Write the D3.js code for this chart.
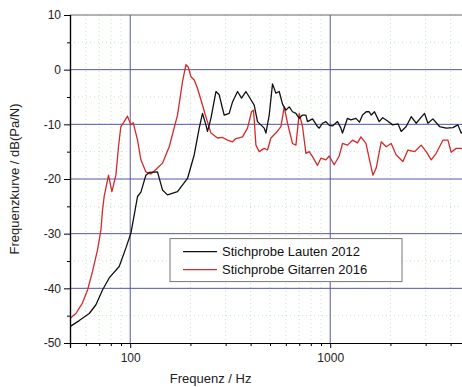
<!DOCTYPE html>
<html>
<head>
<meta charset="utf-8">
<script src="https://cdn.jsdelivr.net/npm/d3@7/dist/d3.min.js"></script>
<style>
body { margin: 0; background: #fff; }
svg { display: block; font-family: "Liberation Sans", Arial, sans-serif; }
</style>
</head>
<body>
<svg id="chart"></svg>
<script>
// Stichprobe Lauten 2012 (Frequenz in Hz, Pegel in dB)
const lautenFreq = [50, 55.6, 62.4, 67.4, 72.7, 78.5, 88.1, 95.2, 100.8, 104.7, 108.8, 113.1, 119.8, 124.5, 136.9, 145, 153.6, 172.4, 193.4, 208.9, 221.3, 229.9, 239, 243.5, 253.3, 268.3, 278.6, 289.4, 295.1, 312.6, 324.8, 344.1, 360.3, 378.8, 401.4, 416.9, 433, 450.3, 467.7, 477, 495.5, 514.7, 535.2, 555.9, 577.5, 600.5, 623.7, 647.9, 673.8, 699.8, 727, 755.9, 770, 815.6, 864, 881, 915, 951.7, 990, 1027, 1088, 1131, 1152, 1220, 1269, 1345, 1400, 1451, 1514, 1567, 1603, 1665, 1758, 1830, 1905, 2054, 2181, 2265, 2399, 2541, 2692, 2820, 2962, 3080, 3262, 3520, 3802, 4108, 4350, 4519, 4800, 5000];
const lautenDb = [-47.0, -45.9, -44.6, -43.0, -40.3, -38.1, -36.0, -32.6, -29.9, -26.6, -23.2, -22.4, -19.3, -18.8, -18.7, -22.0, -22.9, -22.3, -19.9, -15.6, -10.7, -8.0, -10.1, -11.3, -8.9, -4.0, -4.6, -7.1, -8.3, -8.0, -5.9, -4.0, -5.2, -4.0, -5.5, -6.5, -9.5, -10.1, -10.7, -11.6, -8.3, -2.6, -4.3, -4.0, -6.3, -7.4, -6.8, -7.7, -8.0, -8.9, -8.3, -8.3, -9.5, -9.0, -10.4, -10.7, -9.8, -9.5, -10.2, -10.3, -9.5, -10.7, -11.6, -8.9, -9.2, -8.9, -9.6, -8.3, -7.7, -7.7, -8.3, -7.7, -9.5, -8.8, -9.2, -10.1, -9.9, -11.3, -10.4, -8.6, -9.8, -8.9, -8.0, -9.8, -9.0, -10.4, -10.7, -10.6, -10.1, -11.6, -10.8, -11.0];

// Stichprobe Gitarren 2016
const gitarrenFreq = [50, 53.5, 57.7, 61.2, 64.8, 68.6, 71.4, 72.7, 74.1, 77.9, 81, 84.8, 87.4, 89.8, 93.3, 96.9, 100.8, 103.5, 108.8, 113.1, 119.8, 126.9, 136.9, 145, 156.7, 172.4, 182.6, 189.9, 195, 201.2, 208.9, 217, 229.9, 239, 253.3, 273.3, 289.4, 306.6, 324.8, 337.7, 364.5, 386, 404.3, 413.6, 425.2, 441.6, 467.7, 486, 505.2, 535.2, 567, 588.8, 611.7, 647.9, 673.8, 699.8, 727, 756, 785.2, 815.6, 864, 898.5, 951.7, 988.5, 1047, 1109, 1152, 1220, 1293, 1369, 1424, 1509, 1573, 1635, 1698, 1799, 1905, 2018, 2138, 2310, 2447, 2640, 2851, 3020, 3199, 3388, 3660, 3877, 4027, 4266, 4519, 4800, 5000];
const gitarrenDb = [-45.5, -44.6, -42.7, -40.3, -36.9, -33.0, -29.3, -25.7, -23.2, -19.3, -22.3, -19.3, -14.1, -10.4, -9.5, -8.5, -10.1, -9.7, -12.9, -16.5, -18.7, -19.1, -18.0, -17.1, -14.1, -8.3, -2.2, 0.9, 0.5, -1.3, -1.9, -3.4, -6.5, -8.6, -11.6, -12.5, -12.4, -12.9, -13.2, -12.6, -12.3, -10.7, -7.7, -7.4, -13.8, -15.0, -14.4, -14.7, -12.5, -11.6, -10.4, -6.8, -9.8, -13.5, -13.8, -8.0, -10.4, -15.3, -15.0, -15.9, -17.5, -16.2, -16.5, -15.8, -17.4, -15.8, -13.5, -13.8, -12.9, -13.4, -12.3, -13.5, -16.5, -19.3, -18.0, -13.2, -14.1, -13.5, -15.6, -16.8, -14.7, -15.0, -13.8, -15.0, -16.5, -15.3, -12.9, -12.9, -15.1, -14.4, -14.4, -14.6, -14.2];

const seriesNames = ["Stichprobe Lauten 2012", "Stichprobe Gitarren 2016"];
const seriesColors = ["#111111", "#d42a2a"];

const yMajor = [10, 0, -10, -20, -30, -40, -50];
const yMinor = [5, -5, -15, -25, -35, -45];
const xMajor = [100, 1000];
const xMinor = [60, 70, 80, 90, 200, 300, 400, 500, 600, 700, 800, 900, 2000, 3000, 4000];

const W = 462, H = 387;
const margin = { top: 15, right: -8, bottom: 44, left: 70 };
const width = W - margin.left - margin.right;
const height = H - margin.top - margin.bottom;

const svg = d3.select('#chart').attr('width', W).attr('height', H);

const x = d3.scaleLog().domain([50, 5000]).range([0, width]);
const y = d3.scaleLinear().domain([-50, 10]).range([height, 0]);

const g = svg.append('g')
	.attr('transform', 'translate(' + margin.left + ',' + margin.top + ')');

g.append('clipPath').attr('id', 'clip')
	.append('rect').attr('width', width).attr('height', height);

// minor grid, dotted light green
g.selectAll('.vminor').data(xMinor).enter().append('line')
	.attr('x1', d => x(d)).attr('x2', d => x(d))
	.attr('y1', 0).attr('y2', height)
	.attr('stroke', '#c4e6c4').attr('stroke-width', 1).attr('stroke-dasharray', '1,3');
g.selectAll('.hminor').data(yMinor).enter().append('line')
	.attr('x1', 0).attr('x2', width)
	.attr('y1', d => y(d)).attr('y2', d => y(d))
	.attr('stroke', '#c4e6c4').attr('stroke-width', 1).attr('stroke-dasharray', '1,3');

// major grid, blue
g.selectAll('.vmajor').data(xMajor).enter().append('line')
	.attr('x1', d => x(d)).attr('x2', d => x(d))
	.attr('y1', 0).attr('y2', height)
	.attr('stroke', '#5555aa').attr('stroke-width', 1);
g.selectAll('.hmajor').data(yMajor.slice(1, -1)).enter().append('line')
	.attr('x1', 0).attr('x2', width)
	.attr('y1', d => y(d)).attr('y2', d => y(d))
	.attr('stroke', '#5555aa').attr('stroke-width', 1);

// top frame
g.append('line').attr('x1', 0).attr('x2', width).attr('y1', 0).attr('y2', 0)
	.attr('stroke', '#666').attr('stroke-width', 1.2);

// curves
const line = d3.line()
	.x(d => x(d[0]))
	.y(d => y(d[1]));

const series = [
	d3.zip(lautenFreq, lautenDb),
	d3.zip(gitarrenFreq, gitarrenDb)
];

// red first, black on top
[1, 0].forEach(function(i){
	g.append('path')
		.datum(series[i])
		.attr('clip-path', 'url(#clip)')
		.attr('fill', 'none')
		.attr('stroke', seriesColors[i])
		.attr('stroke-width', 1.3)
		.attr('stroke-linejoin', 'round')
		.attr('d', line);
});

// axes
g.append('g')
	.call(d3.axisLeft(y).tickValues(yMajor).tickFormat(d => String(d)).tickSize(6).tickPadding(3));
g.append('g')
	.call(d3.axisLeft(y).tickValues(yMinor).tickFormat('').tickSize(3));

g.append('g')
	.attr('transform', 'translate(0,' + height + ')')
	.call(d3.axisBottom(x).tickValues(xMajor).tickFormat(d => String(d)).tickSize(5).tickPadding(5));
g.append('g')
	.attr('transform', 'translate(0,' + height + ')')
	.call(d3.axisBottom(x).tickValues(xMinor).tickFormat('').tickSize(3));

g.selectAll('.domain').attr('stroke', '#000').attr('stroke-width', 1.2);
g.selectAll('.tick line').attr('stroke', '#000');
g.selectAll('.tick text').attr('font-size', 12).attr('fill', '#222')
	.attr('font-family', '"Liberation Sans", Arial, sans-serif');

// axis titles
svg.append('text')
	.attr('x', margin.left + x(300) - 15).attr('y', H - 4)
	.attr('text-anchor', 'middle')
	.attr('font-size', 13).attr('fill', '#222')
	.text('Frequenz / Hz');

svg.append('text')
	.attr('transform', 'translate(19,' + (margin.top + height / 2) + ') rotate(-90)')
	.attr('text-anchor', 'middle')
	.attr('font-size', 13).attr('fill', '#222')
	.text('Frequenzkurve / dB(Pa/N)');

// legend
const legend = g.append('g')
	.attr('transform', 'translate(100,' + y(-30.9) + ')');
legend.append('rect')
	.attr('width', 232).attr('height', 43)
	.attr('fill', '#fff').attr('stroke', '#777').attr('stroke-width', 1);
seriesNames.forEach(function(name, i){
	legend.append('line')
		.attr('x1', 13).attr('x2', 47)
		.attr('y1', 13 + i * 18).attr('y2', 13 + i * 18)
		.attr('stroke', seriesColors[i]).attr('stroke-width', 1.3);
	legend.append('text')
		.attr('x', 52).attr('y', 13 + i * 18)
		.attr('dy', '0.35em')
		.attr('font-size', 13).attr('fill', '#111')
		.text(name);
});
</script>
</body>
</html>
